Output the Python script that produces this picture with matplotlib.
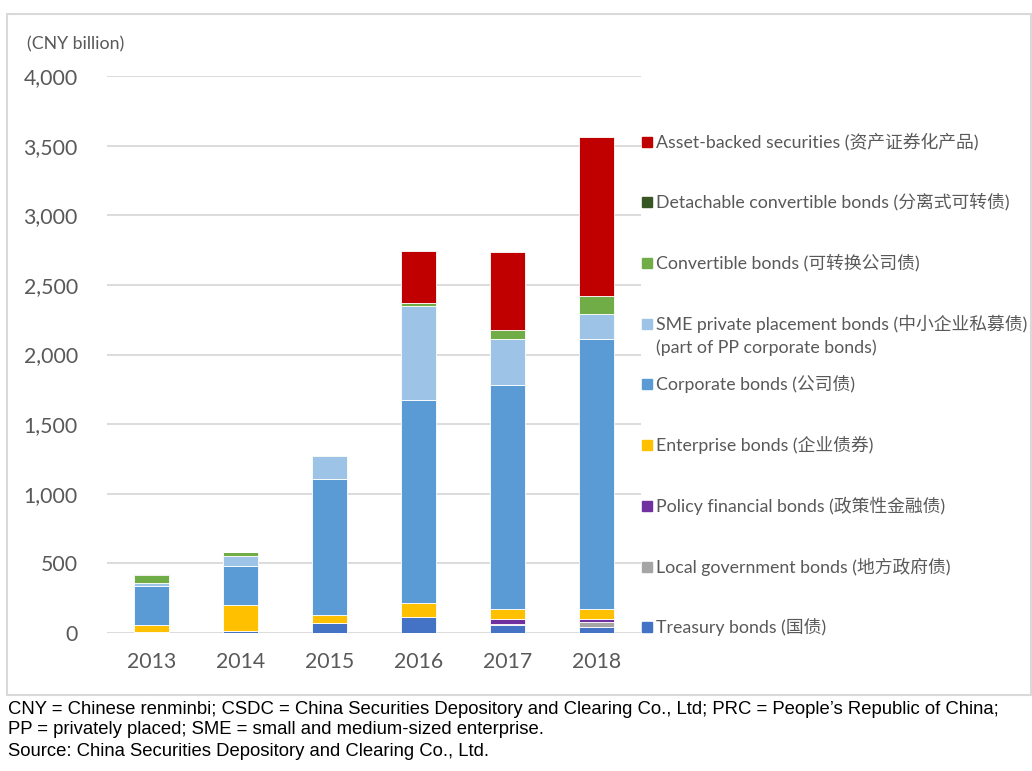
import matplotlib
matplotlib.use("Agg")
import matplotlib.pyplot as plt
import numpy as np
from matplotlib.patches import Rectangle

# values in CNY billion
years = ["2013", "2014", "2015", "2016", "2017", "2018"]
treasury = [7, 12, 70, 115, 57, 43]
local_gov = [0, 0, 0, 0, 10, 34]
policy = [0, 0, 0, 0, 31, 24]
enterprise = [50, 189, 59, 98, 72, 71]
corporate = [283, 282, 979, 1463, 1613, 1937]
sme_pp = [17, 70, 165, 673, 328, 182]
convertible = [62, 31, 7, 21, 65, 129]
detachable = [7, 0, 0, 0, 0, 0]
abs_sec = [0, 0, 0, 373, 558, 1142]

series = [
    (treasury, "#4472c4", ["Treasury bonds (国债)"]),
    (local_gov, "#a5a5a5", ["Local government bonds (地方政府债)"]),
    (policy, "#7030a0", ["Policy financial bonds (政策性金融债)"]),
    (enterprise, "#ffc000", ["Enterprise bonds (企业债券)"]),
    (corporate, "#5b9bd5", ["Corporate bonds (公司债)"]),
    (sme_pp, "#9dc3e6", ["SME private placement bonds (中小企业私募债)",
                         "(part of PP corporate bonds)"]),
    (convertible, "#70ad47", ["Convertible bonds (可转换公司债)"]),
    (detachable, "#375623", ["Detachable convertible bonds (分离式可转债)"]),
    (abs_sec, "#c00000", ["Asset-backed securities (资产证券化产品)"]),
]

fonts = ["Lato", "Noto Sans CJK SC", "DejaVu Sans"]
grey = "#595959"

fig = plt.figure(figsize=(10.32, 7.71), dpi=100)
W, H = 1032, 771

# chart frame
fig.patches.append(Rectangle((7 / W, 1 - 695 / H), 1024 / W, 681 / H,
                             transform=fig.transFigure, fill=False,
                             edgecolor="#d9d9d9", linewidth=1.5))

ax = fig.add_axes([107 / W, 1 - 633 / H, 534 / W, 557 / H])
x = np.arange(len(years))
bottom = np.zeros(len(years))
for vals, color, _ in series:
    ax.bar(x, vals, 0.39, bottom=bottom, color=color,
           edgecolor="white", linewidth=0.6, zorder=3)
    bottom += np.array(vals)

ax.set_xlim(-0.5, len(years) - 0.5)
ax.set_ylim(0, 4000)
ax.set_yticks(np.arange(0, 4001, 500))
ax.set_yticklabels([f"{v:,}" for v in range(0, 4001, 500)])
ax.set_xticks(x)
ax.set_xticklabels(years)
ax.tick_params(axis="both", length=0, labelsize=15.3, labelcolor=grey)
ax.tick_params(axis="y", pad=21)
ax.tick_params(axis="x", pad=14)
for lab in ax.get_xticklabels() + ax.get_yticklabels():
    lab.set_family(fonts)
ax.grid(axis="y", color="#d9d9d9", linewidth=1.3, zorder=0)
for s in ax.spines.values():
    s.set_visible(False)

fig.text(27 / W, 1 - 44 / H, "(CNY billion)", fontsize=12.8, color=grey,
         family=fonts, va="center")

# legend, top entry first
ys = [142, 202, 263, 324, 384, 445, 506, 567, 627]
for (vals, color, lines), y in zip(series[::-1], ys):
    fig.patches.append(Rectangle((642 / W, 1 - (y + 5) / H), 10 / W, 10 / H,
                                 transform=fig.transFigure, color=color))
    for k, line in enumerate(lines):
        fig.text(656 / W, 1 - (y + 24 * k) / H, line, fontsize=12.8,
                 color=grey, family=fonts, va="center")

notes = [
    "CNY = Chinese renminbi; CSDC = China Securities Depository and Clearing Co., Ltd; PRC = People\u2019s Republic of China;",
    "PP = privately placed; SME = small and medium-sized enterprise.",
    "Source: China Securities Depository and Clearing Co., Ltd.",
]
for k, line in enumerate(notes):
    fig.text(8 / W, 1 - (709 + 21 * k) / H, line, fontsize=13.3,
             color="black", family="Liberation Sans", va="center")

fig.savefig("out.png", dpi=100)
